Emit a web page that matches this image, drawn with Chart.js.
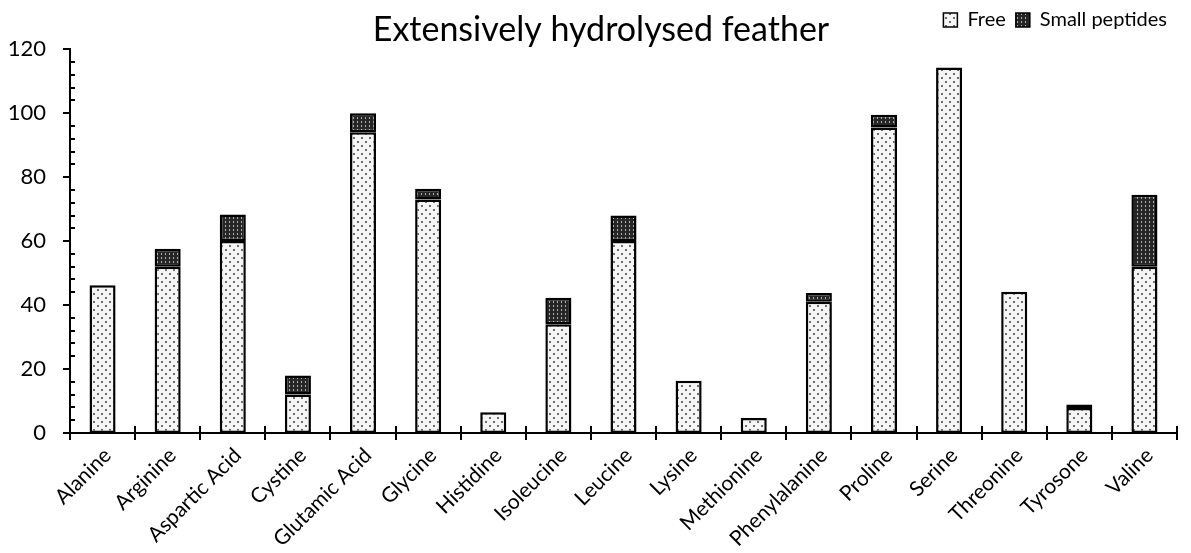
<!DOCTYPE html>
<html>
<head>
<meta charset="utf-8">
<script src="https://cdn.jsdelivr.net/npm/chart.js@4/dist/chart.umd.min.js"></script>
<style>
html,body{margin:0;padding:0;background:#fff;}
#wrap{width:1191px;height:553px;position:relative;}
</style>
</head>
<body>
<div id="wrap"><canvas id="c" width="1191" height="553"></canvas></div>
<script>
const categories = ["Alanine","Arginine","Aspartic Acid","Cystine","Glutamic Acid","Glycine","Histidine","Isoleucine","Leucine","Lysine","Methionine","Phenylalanine","Proline","Serine","Threonine","Tyrosone","Valine"];
const freeValues = [46.2, 52, 60, 12, 94, 73, 6.5, 34, 60, 16.3, 4.7, 41, 95.5, 114.3, 44.2, 7.8, 52];
const peptideValues = [0, 5.6, 8.3, 6, 6, 3.4, 0, 8.3, 8, 0, 0, 2.8, 4, 0, 0, 1.1, 22.5];
const yTicks = [0, 20, 40, 60, 80, 100, 120];

const FONT = "Lato, 'Open Sans', sans-serif";

function makePattern(bg, dot, size, dots) {
  const p = document.createElement('canvas');
  p.width = size; p.height = size;
  const g = p.getContext('2d');
  g.fillStyle = bg; g.fillRect(0,0,size,size);
  g.fillStyle = dot;
  dots.forEach(d => g.fillRect(d[0], d[1], d[2], d[3]));
  return document.getElementById('c').getContext('2d').createPattern(p, 'repeat');
}
const freePattern = makePattern('#f5f5f5', '#6e6e6e', 8, [[1,1,2,2],[5,5,2,2]]);
const pepPattern = makePattern('#262626', '#b0b0b0', 4, [[1,1,1,2]]);

const tickPlugin = {
  id: 'ticksAndTitle',
  afterDraw(chart) {
    const ctx = chart.ctx;
    const y = chart.scales.y, x = chart.scales.x;
    const area = chart.chartArea;
    ctx.save();
    ctx.strokeStyle = '#000';
    ctx.lineWidth = 2;
    for (let v = 0; v <= 120; v += 4) {
      const py = Math.round(y.getPixelForValue(v));
      ctx.beginPath();
      if (v % 20 === 0) { ctx.moveTo(area.left - 7, py); ctx.lineTo(area.left, py); }
      else { ctx.moveTo(area.left, py); ctx.lineTo(area.left + 5, py); }
      ctx.stroke();
    }
    const n = categories.length;
    const step = x.getPixelForValue(1) - x.getPixelForValue(0);
    for (let i = 0; i <= n; i++) {
      const px = Math.round(i < n ? x.getPixelForValue(i) - step / 2 : x.getPixelForValue(n - 1) + step / 2);
      ctx.beginPath();
      ctx.moveTo(px, area.bottom - 7);
      ctx.lineTo(px, area.bottom + 7);
      ctx.stroke();
    }
    ctx.fillStyle = '#000';
    ctx.font = "34px " + FONT;
    ctx.textAlign = 'center';
    ctx.textBaseline = 'middle';
    ctx.fillText('Extensively hydrolysed feather', 601, 30);
    ctx.restore();
  }
};

new Chart(document.getElementById('c'), {
  type: 'bar',
  data: {
    labels: categories,
    datasets: [
      { label: 'Free', data: freeValues, backgroundColor: freePattern, borderColor: '#000', borderWidth: 2.5, borderSkipped: false, barPercentage: 0.4, categoryPercentage: 1 },
      { label: 'Small peptides', data: peptideValues, backgroundColor: pepPattern, borderColor: '#000', borderWidth: 2.5, borderSkipped: false, barPercentage: 0.4, categoryPercentage: 1 }
    ]
  },
  options: {
    responsive: false,
    animation: false,
    devicePixelRatio: 1,
    layout: { padding: { left: 4, right: 14, top: 0, bottom: 0 } },
    plugins: {
      title: { display: false },
      subtitle: { display: true, text: ' ', weight: 500, font: { size: 1 }, padding: { top: 0, bottom: 8 } },
      tooltip: { enabled: false },
      legend: {
        display: true,
        position: 'top',
        align: 'end',
        labels: {
          color: '#000',
          font: { family: FONT, size: 20 },
          boxWidth: 14,
          boxHeight: 14,
          padding: 10,
          generateLabels(chart) {
            return chart.data.datasets.map((d, i) => ({
              text: d.label, fillStyle: d.backgroundColor, strokeStyle: '#000', lineWidth: 1.5, datasetIndex: i, hidden: false
            }));
          }
        }
      }
    },
    scales: {
      x: {
        stacked: true,
        grid: { display: false, drawTicks: false },
        border: { display: true, color: '#000', width: 2 },
        ticks: { color: '#000', font: { family: FONT, size: 21 }, maxRotation: 45, minRotation: 45, padding: 10, labelOffset: 5, autoSkip: false },
        afterFit(scale) { scale.height = 120; }
      },
      y: {
        stacked: true,
        min: 0, max: 120,
        afterBuildTicks(scale) { scale.ticks = yTicks.map(v => ({ value: v })); },
        grid: { display: false, drawTicks: false },
        border: { display: true, color: '#000', width: 2 },
        ticks: { color: '#000', font: { family: FONT, size: 22 }, padding: 24 },
        afterFit(scale) { scale.width = 66; }
      }
    }
  },
  plugins: [tickPlugin]
});
</script>
</body>
</html>
